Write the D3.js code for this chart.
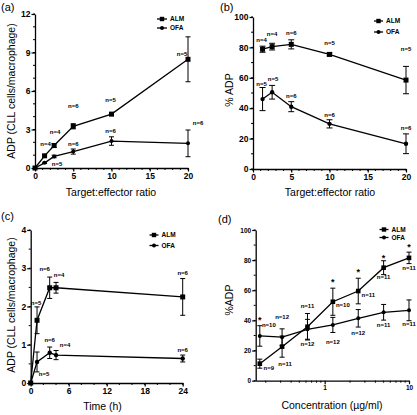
<!DOCTYPE html>
<html><head><meta charset="utf-8">
<script src="https://cdn.jsdelivr.net/npm/d3@7"></script>
<style>
html,body{margin:0;padding:0;background:#fff;}
svg{display:block;font-family:"Liberation Sans",Arial,sans-serif;}
</style></head>
<body>
<svg id="c" width="417" height="415"></svg>
<script>
// ---------- DATA ----------
// Panel (a)
const aRatio   = [0, 1.25, 2.5, 5, 10, 20];
const aALM     = [0, 0.95, 1.75, 3.25, 4.2, 8.47];
const aALMerr  = [0, 0.08, 0.15, 0.2, 0.12, 1.75];
const aOFA     = [0, 0.4, 0.9, 1.28, 2.1, 1.92];
const aOFAerr  = [0, 0.05, 0.1, 0.2, 0.33, 1.04];
const aNALM    = ["", "n=4", "n=4", "n=6", "n=5", "n=5"];
const aNOFA    = ["", "", "n=5", "n=6", "n=6", "n=6"];
const aXTicks  = [0, 5, 10, 15, 20];
const aYTicks  = [0, 3, 6, 9, 12];

// Panel (b)
const bRatio   = [1.25, 2.5, 5, 10, 20];
const bALM     = [78.8, 80.5, 82, 75.4, 58.5];
const bALMerr  = [2, 2.2, 3, 1, 9];
const bOFA     = [46, 50.5, 41, 29.7, 16.6];
const bOFAerr  = [7.6, 4.5, 3.3, 2.7, 6.5];
const bNALM    = ["n=4", "n=4", "n=6", "n=5", "n=5"];
const bNOFA    = ["n=5", "n=5", "n=6", "n=6", "n=6"];
const bXTicks  = [0, 5, 10, 15, 20];
const bYTicks  = [0, 20, 40, 60, 80, 100];

// Panel (c)
const cTime    = [0, 1, 3, 4, 24];
const cALM     = [0, 1.64, 2.49, 2.49, 2.25];
const cALMerr  = [0, 0.35, 0.28, 0.14, 0.48];
const cOFA     = [0, 0.55, 0.79, 0.73, 0.64];
const cOFAerr  = [0, 0.26, 0.15, 0.12, 0.09];
const cNALM    = ["", "n=5", "n=6", "n=4", "n=6"];
const cNOFA    = ["", "n=5", "n=6", "n=4", "n=6"];
const cXTicks  = [0, 6, 12, 18, 24];
const cYTicks  = [0, 1, 2, 3, 4];

// Panel (d)
const dConc    = [0.17, 0.3125, 0.625, 1.25, 2.5, 5, 10];
const dALM     = [11.3, 22.6, 35.8, 52.4, 59.5, 75, 81.5];
const dALMerr  = [3, 7, 8.8, 9, 8.5, 4.6, 3.8];
const dOFA     = [29.7, 28.9, 34.1, 37, 41.4, 45.4, 46.7];
const dOFAerr  = [6.8, 5.5, 6.6, 5, 5.8, 5.2, 6.9];
const dNALM    = ["n=9", "n=11", "n=11", "n=10", "n=11", "n=11", "n=11"];
const dNOFA    = ["n=10", "n=12", "n=12", "n=12", "n=12", "n=11", "n=11"];
const dStars   = ["*", "", "", "*", "*", "*", "*"];
const dXTicks  = [1, 10];
const dYTicks  = [0, 20, 40, 60, 80, 100];

const seriesNames = ["ALM", "OFA"];

// ---------- LAYOUT (pixel offsets for annotations) ----------
const aOffALM = [null, [1,-12], [1,-14], [0,-20], [-1,-14], [-6,-5]];
const aOffOFA = [null, null, [3,7], [0,-8], [-1,-10], [10,-20]];
const bOffALM = [[-1,-9], [0,-13], [0,-11], [0,-11], [0,-31]];
const bOffOFA = [[-1,-15], [1,-13], [0,-11], [0,-9], [0,-16]];
const cOffALM = [null, [-1,-17], [-5,-19], [3,-13], [0,-24]];
const cOffOFA = [null, [7,12], [0,-13], [9,-10], [0,-9]];
const dOffALM = [[9,4], [3,17], [0,-21], [10,3], [10,4], [0,9], [0,10]];
const dOffOFA = [[9,-11], [0,-20], [0,15], [0,17], [0,15], [0,13], [0,14]];
const dStarOff = [["OFA",0,-18], null, null, ["ALM",0,-22], ["ALM",0,-21], ["ALM",0,-12], ["ALM",0,-13]];

const svg = d3.select("#c");

function drawPanel(cfg) {
  const g = svg.append("g");
  const x = cfg.x, y = cfg.y;
  const tf = cfg.tickFont;

  // minor ticks
  const xr = y.range()[0];
  g.selectAll(".mx").data(cfg.xMinor).enter().append("line")
    .attr("x1", d => x(d)).attr("x2", d => x(d))
    .attr("y1", xr).attr("y2", xr + 2)
    .attr("stroke", "#000").attr("stroke-width", 1);
  const yl = x.range()[0];
  g.selectAll(".my").data(cfg.yMinor).enter().append("line")
    .attr("x1", yl - 2).attr("x2", yl)
    .attr("y1", d => y(d)).attr("y2", d => y(d))
    .attr("stroke", "#000").attr("stroke-width", 1);

  const xa = g.append("g").attr("transform", `translate(0,${xr})`)
    .call(d3.axisBottom(x).tickValues(cfg.xTicks).tickFormat(cfg.xFmt || d3.format("d"))
      .tickSize(3.5).tickSizeOuter(0).tickPadding(1.5));
  const ya = g.append("g").attr("transform", `translate(${yl},0)`)
    .call(d3.axisLeft(y).tickValues(cfg.yTicks).tickFormat(d3.format("d"))
      .tickSize(3.5).tickSizeOuter(0).tickPadding(1));
  [xa, ya].forEach(a => {
    a.select(".domain").attr("stroke-width", 1.3);
    a.selectAll(".tick line").attr("stroke-width", 1.2);
    a.selectAll("text").attr("font-size", tf).attr("font-weight", "bold")
      .attr("font-family", "Liberation Sans, Arial, sans-serif").attr("fill", "#000");
  });

  // series
  const series = [
    {name: "ALM", v: cfg.alm, e: cfg.almErr, n: cfg.nAlm, off: cfg.offAlm, shape: "sq"},
    {name: "OFA", v: cfg.ofa, e: cfg.ofaErr, n: cfg.nOfa, off: cfg.offOfa, shape: "ci"}
  ];
  const line = d3.line().x(d => x(d[0])).y(d => y(d[1]));
  series.forEach(s => {
    const pts = cfg.xs.map((xv, i) => [xv, s.v[i], s.e[i]]);
    g.append("path").datum(pts).attr("d", line)
      .attr("fill", "none").attr("stroke", "#000").attr("stroke-width", 1.3);
    // error bars
    pts.forEach(p => {
      if (!p[2]) return;
      const cx = x(p[0]), t = y(p[1] + p[2]), b = y(p[1] - p[2]), cw = cfg.cap;
      g.append("line").attr("x1", cx).attr("x2", cx).attr("y1", t).attr("y2", b)
        .attr("stroke", "#000").attr("stroke-width", 1);
      [t, b].forEach(yy => g.append("line").attr("x1", cx - cw).attr("x2", cx + cw)
        .attr("y1", yy).attr("y2", yy).attr("stroke", "#000").attr("stroke-width", 1));
    });
    // markers
    pts.forEach(p => {
      const cx = x(p[0]), cy = y(p[1]);
      if (s.shape === "sq") {
        const r = cfg.msq;
        g.append("rect").attr("x", cx - r).attr("y", cy - r).attr("width", 2*r).attr("height", 2*r).attr("fill", "#000");
      } else {
        g.append("circle").attr("cx", cx).attr("cy", cy).attr("r", cfg.mci).attr("fill", "#000");
      }
    });
    // n labels
    s.n.forEach((t, i) => {
      if (!t || !s.off[i]) return;
      g.append("text").attr("x", x(cfg.xs[i]) + s.off[i][0]).attr("y", y(s.v[i]) + s.off[i][1])
        .attr("dy", "0.35em").attr("text-anchor", "middle")
        .attr("font-size", cfg.nFont).attr("font-weight", "bold").text(t);
    });
  });
  // stars
  if (cfg.stars) {
    cfg.stars.forEach((t, i) => {
      const o = cfg.starOff[i];
      if (!t || !o) return;
      const v = o[0] === "ALM" ? cfg.alm[i] : cfg.ofa[i];
      g.append("text").attr("x", x(cfg.xs[i]) + o[1]).attr("y", y(v) + o[2])
        .attr("dy", "0.55em").attr("text-anchor", "middle")
        .attr("font-size", 9).attr("font-weight", "bold").text(t);
    });
  }
  // legend
  seriesNames.forEach((nm, k) => {
    const ly = cfg.legY[k], lx0 = cfg.legX[0], lx1 = cfg.legX[1];
    g.append("line").attr("x1", lx0).attr("x2", lx1).attr("y1", ly).attr("y2", ly)
      .attr("stroke", "#000").attr("stroke-width", 1.3);
    const mx = (lx0 + lx1) / 2;
    if (k === 0) g.append("rect").attr("x", mx - 2.2).attr("y", ly - 2.2).attr("width", 4.4).attr("height", 4.4).attr("fill", "#000");
    else g.append("circle").attr("cx", mx).attr("cy", ly).attr("r", 2).attr("fill", "#000");
    g.append("text").attr("x", lx1 + 3).attr("y", ly).attr("dy", "0.35em")
      .attr("font-size", 6.5).attr("font-weight", "bold").text(nm);
  });
  // panel letter
  g.append("text").attr("x", cfg.tag[0]).attr("y", cfg.tag[1]).attr("font-size", 11).text(cfg.tag[2]);
  // axis titles
  g.append("text").attr("x", cfg.xTitle[0]).attr("y", cfg.xTitle[1]).attr("text-anchor", "middle")
    .attr("font-size", cfg.titleFont).text(cfg.xTitle[2]);
  g.append("text").attr("transform", `translate(${cfg.yTitle[0]},${cfg.yTitle[1]}) rotate(-90)`)
    .attr("text-anchor", "middle").attr("dy", "0.35em")
    .attr("font-size", cfg.titleFont).text(cfg.yTitle[2]);
}

const rng = (a, b, s) => d3.range(a, b + s / 2, s);

drawPanel({
  x: d3.scaleLinear().domain([0, 20]).range([35, 188]),
  y: d3.scaleLinear().domain([0, 12]).range([168, 14]),
  xs: aRatio, alm: aALM, almErr: aALMerr, ofa: aOFA, ofaErr: aOFAerr,
  nAlm: aNALM, nOfa: aNOFA, offAlm: aOffALM, offOfa: aOffOFA,
  xTicks: aXTicks, yTicks: aYTicks, xMinor: rng(0, 20, 1), yMinor: rng(0, 12, 1),
  tickFont: 8.5, nFont: 6, titleFont: 10.5, cap: 2.5, msq: 2.5, mci: 2,
  legX: [157, 167], legY: [19, 28],
  tag: [1, 11, "(a)"], xTitle: [111, 196, "Target:effector ratio"],
  yTitle: [11, 91, "ADP (CLL cells/macrophage)"]
});

drawPanel({
  x: d3.scaleLinear().domain([0, 20]).range([253, 406]),
  y: d3.scaleLinear().domain([0, 100]).range([169, 17]),
  xs: bRatio, alm: bALM, almErr: bALMerr, ofa: bOFA, ofaErr: bOFAerr,
  nAlm: bNALM, nOfa: bNOFA, offAlm: bOffALM, offOfa: bOffOFA,
  xTicks: bXTicks, yTicks: bYTicks, xMinor: rng(0, 20, 1), yMinor: rng(0, 100, 10),
  tickFont: 8.5, nFont: 6, titleFont: 10.5, cap: 3, msq: 2.5, mci: 2.2,
  legX: [374, 383], legY: [21, 32],
  tag: [220, 11, "(b)"], xTitle: [330, 196, "Target:effector ratio"],
  yTitle: [229, 90, "% ADP"]
});

drawPanel({
  x: d3.scaleLinear().domain([0, 24]).range([30.7, 182.7]),
  y: d3.scaleLinear().domain([0, 4]).range([383, 230]),
  xs: cTime, alm: cALM, almErr: cALMerr, ofa: cOFA, ofaErr: cOFAerr,
  nAlm: cNALM, nOfa: cNOFA, offAlm: cOffALM, offOfa: cOffOFA,
  xTicks: cXTicks, yTicks: cYTicks, xMinor: rng(0, 24, 2), yMinor: rng(0, 4, 0.5),
  tickFont: 8.5, nFont: 6, titleFont: 10.5, cap: 2.5, msq: 2.5, mci: 2.2,
  legX: [149.5, 158.5], legY: [235, 245.5],
  tag: [1, 220, "(c)"], xTitle: [102.5, 410, "Time (h)"],
  yTitle: [11, 305, "ADP (CLL cells/macrophage)"]
});

const dMinor = [];
[0.1, 1].forEach(b => d3.range(2, 10).forEach(m => { const v = b * m; if (v >= 0.152) dMinor.push(v); }));
drawPanel({
  x: d3.scaleLog().domain([0.152, 10]).range([255.7, 409]),
  y: d3.scaleLinear().domain([0, 100]).range([380.7, 230]),
  xs: dConc, alm: dALM, almErr: dALMerr, ofa: dOFA, ofaErr: dOFAerr,
  nAlm: dNALM, nOfa: dNOFA, offAlm: dOffALM, offOfa: dOffOFA,
  stars: dStars, starOff: dStarOff, xFmt: d3.format("d"),
  xTicks: dXTicks, yTicks: dYTicks, xMinor: dMinor, yMinor: rng(0, 100, 10),
  tickFont: 6.5, nFont: 6, titleFont: 10.5, cap: 2.5, msq: 2.3, mci: 2,
  legX: [379.5, 388.5], legY: [229.5, 237.5],
  tag: [218, 223, "(d)"], xTitle: [332, 409, "Concentration (µg/ml)"],
  yTitle: [229, 300, "%ADP"]
});
</script>
</body></html>
